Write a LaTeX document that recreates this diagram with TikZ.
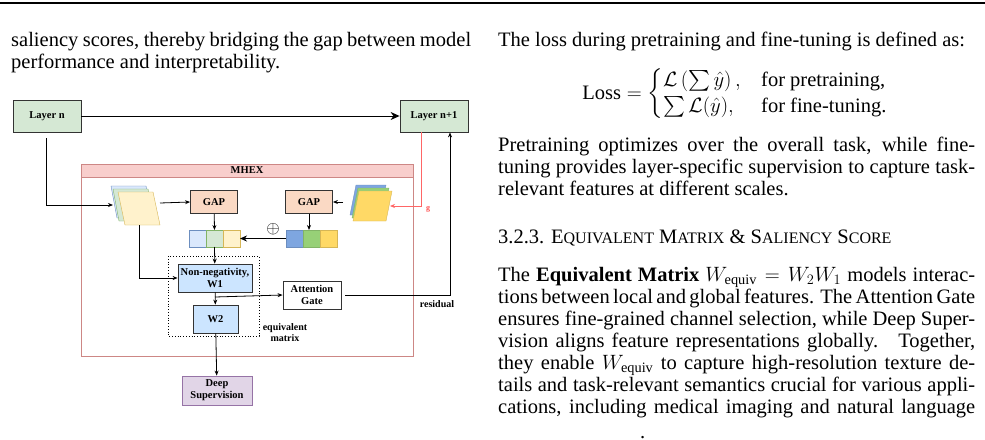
\documentclass[tikz,border=0pt]{standalone}
\usepackage{fontspec}
\setmainfont{Liberation Serif}
\usepackage{amsmath}
\usetikzlibrary{arrows.meta}
\definecolor{lgreen}{HTML}{D5E8D4}\definecolor{dgreen}{HTML}{82B366}
\definecolor{lblue}{HTML}{DAE8FC}\definecolor{dblue}{HTML}{6C8EBF}
\definecolor{lyel}{HTML}{FFF2CC}\definecolor{dyel}{HTML}{D6B656}
\definecolor{lred}{HTML}{F8CECC}\definecolor{dred}{HTML}{B85450}
\definecolor{lorange}{HTML}{FAD9C4}\definecolor{lpurp}{HTML}{E1D5E7}\definecolor{dpurp}{HTML}{9673A6}
\definecolor{mblue}{HTML}{CCE5FF}\definecolor{sblue}{HTML}{7EA6E0}\definecolor{sgreen}{HTML}{97D077}\definecolor{syel}{HTML}{FFD966}
\tikzset{
 box/.style={draw=black!80,line width=0.8pt,font=\fontsize{10.5}{12}\selectfont\bfseries,align=center,inner sep=1pt},
 arr/.style={-{Stealth[length=5pt,width=4pt]},line width=0.8pt},
 ptxt/.style={anchor=base west,inner sep=0,font=\fontsize{20.5}{22}\selectfont},
}
\newcommand{\jl}[1]{\makebox[477pt][s]{#1}}
\newcommand{\smc}[1]{{\fontsize{16}{18}\selectfont #1}}
\begin{document}
\begin{tikzpicture}[x=1pt,y=-1pt]
\useasboundingbox (0,0) rectangle (985,439);
\fill[white] (0,0) rectangle (985,439);
\draw[line width=1.3pt] (0,3) -- (985,3);
% left column text
\node[ptxt] at (11,46) {\makebox[460pt][s]{saliency scores, thereby bridging the gap between model}};
\node[ptxt] at (11,68) {performance and interpretability.};
% right column
\node[ptxt] at (498,46) {The loss during pretraining and fine-tuning is defined as:};
\node[inner sep=0,font=\fontsize{20.5}{22}\selectfont] (loss) at (735,94) {$\text{Loss}=\begin{cases}\mathcal{L}\left(\sum\hat{y}\right), & \text{for pretraining,}\\ \sum\mathcal{L}(\hat{y}), & \text{for fine-tuning.}\end{cases}$};
\node[ptxt] at (498,151) {\jl{Pretraining optimizes over the overall task, while fine-}};
\node[ptxt] at (498,173) {\jl{tuning provides layer-specific supervision to capture task-}};
\node[ptxt] at (498,195) {relevant features at different scales.};
\node[ptxt] at (498,243) {3.2.3. E\smc{QUIVALENT} M\smc{ATRIX} \& S\smc{ALIENCY} S\smc{CORE}};
\node[ptxt] at (498,281) {\jl{The \textbf{Equivalent Matrix} $W_{\text{equiv}}=W_2W_1$ models interac-}};
\node[ptxt] at (498,303) {\jl{tions between local and global features. The Attention Gate}};
\node[ptxt] at (498,325) {\jl{ensures fine-grained channel selection, while Deep Super-}};
\node[ptxt] at (498,347) {\jl{vision aligns feature representations globally. \ Together,}};
\node[ptxt] at (498,369) {\jl{they enable $W_{\text{equiv}}$ to capture high-resolution texture de-}};
\node[ptxt] at (498,391) {\jl{tails and task-relevant semantics crucial for various appli-}};
\node[ptxt] at (498,413) {\jl{cations, including medical imaging and natural language}};
\node[ptxt] at (640,438) {.};
% diagram
\draw[dred!70,fill=white,line width=0.8pt] (81,164) rectangle (413,356);
\draw[dred!70,fill=lred,line width=0.8pt] (81,164) rectangle (413,177);
\node[font=\fontsize{10.5}{12}\selectfont\bfseries] (mhex) at (247,170.5) {MHEX};
\node[box,fill=lgreen,minimum width=68pt,minimum height=32pt] (ln) at (47,116) {Layer n};
\node[box,fill=lgreen,minimum width=68pt,minimum height=32pt] (ln1) at (434,116) {Layer n+1};
\draw[arr,line width=1pt,-{Stealth[length=9pt,width=8pt]}] (ln) -- (ln1);
% left stack
\draw[dblue,fill=lblue] (111,186) -- (146,186) -- (152,218) -- (117,218) -- cycle;
\draw[dgreen,fill=lgreen] (113,189) -- (148,189) -- (154,221) -- (119,221) -- cycle;
\draw[dyel,fill=lyel] (118,192) -- (153,192) -- (160,225) -- (125,225) -- cycle;
\coordinate (ls) at (113,205);
\coordinate (lsr) at (160,203);
\coordinate (lsb) at (139,225);
% right stack
\draw[dblue,fill=sblue] (356,185) -- (386,185) -- (380,215) -- (350,215) -- cycle;
\draw[dgreen,fill=sgreen] (358,188) -- (389,188) -- (383,218) -- (352,218) -- cycle;
\draw[dyel,fill=syel] (359,191) -- (392,191) -- (386,221) -- (353,221) -- cycle;
\coordinate (rsr) at (390,206);
\coordinate (rsl) at (343,202);
\node[box,fill=lorange,minimum width=47pt,minimum height=23pt] (gapl) at (214,202) {GAP};
\node[box,fill=lorange,minimum width=47pt,minimum height=23pt] (gapr) at (309,202) {GAP};
% bars
\foreach \i/\f/\d in {0/lblue/dblue,1/lgreen/dgreen,2/lyel/dyel}{
 \draw[\d,fill=\f] (189+17*\i,230) rectangle ++(17,17);}
\foreach \i/\f/\d in {0/sblue/dblue,1/sgreen/dgreen,2/syel/dyel}{
 \draw[\d,fill=\f] (286+17*\i,230) rectangle ++(17,17);}
\coordinate (lbar) at (214.5,230); \coordinate (lbarr) at (240,238.5); \coordinate (lbarb) at (214.5,247);
\coordinate (rbar) at (309,230); \coordinate (rbarl) at (286,238.5);
\node[font=\fontsize{19}{19}\selectfont] (oplus) at (273,229) {$\oplus$};
\draw[dotted,line width=0.8pt] (168,256) rectangle (259,336);
\node[box,fill=mblue,minimum width=74pt,minimum height=28pt] (w1) at (215,278) {Non-negativity,\\W1};
\node[box,fill=mblue,minimum width=45pt,minimum height=28pt] (w2) at (215.5,319) {W2};
\node[box,fill=white,minimum width=58pt,minimum height=28pt] (ag) at (312,295) {Attention\\Gate};
\node[box,fill=lpurp,draw=dpurp,minimum width=70pt,minimum height=29pt] (ds) at (217,390.5) {Deep\\Supervision};
\node[font=\fontsize{10}{11}\selectfont\bfseries,align=center] (eq) at (285,333) {equivalent\\matrix};
\node[font=\fontsize{10}{11}\selectfont\bfseries] (res) at (437,304) {residual};
\node[font=\fontsize{8}{9}\selectfont\bfseries,text=red!70] (g) at (428,209) {g};
% connectors
\draw[arr] (46,138) -- (46,205) -- (ls);
\draw[arr] (lsr) -- (gapl.west);
\draw[arr] (rsl) -- (gapr.east);
\draw[arr] (gapl) -- (lbar);
\draw[arr] (gapr) -- (rbar);
\draw[arr,line width=1pt,-{Stealth[length=7pt,width=6pt]}] (rbarl) -- (lbarr);
\draw[arr] (lbarb) -- (w1);
\draw[arr] (lsb) -- (139,278) -- (w1.west);
\draw[arr] (w1) -- (w2);
\draw[arr] (215,297) -- (ag.west);
\draw[arr] (ag.east) ++(4,0) -- (450,295) -- (ln1.south -| 450,132);
\draw[arr,red!60] (ln1.south -| 421,132) -- (421,206) -- (rsr);
\draw[arr] (w2) -- (ds);
\end{tikzpicture}
\end{document}
